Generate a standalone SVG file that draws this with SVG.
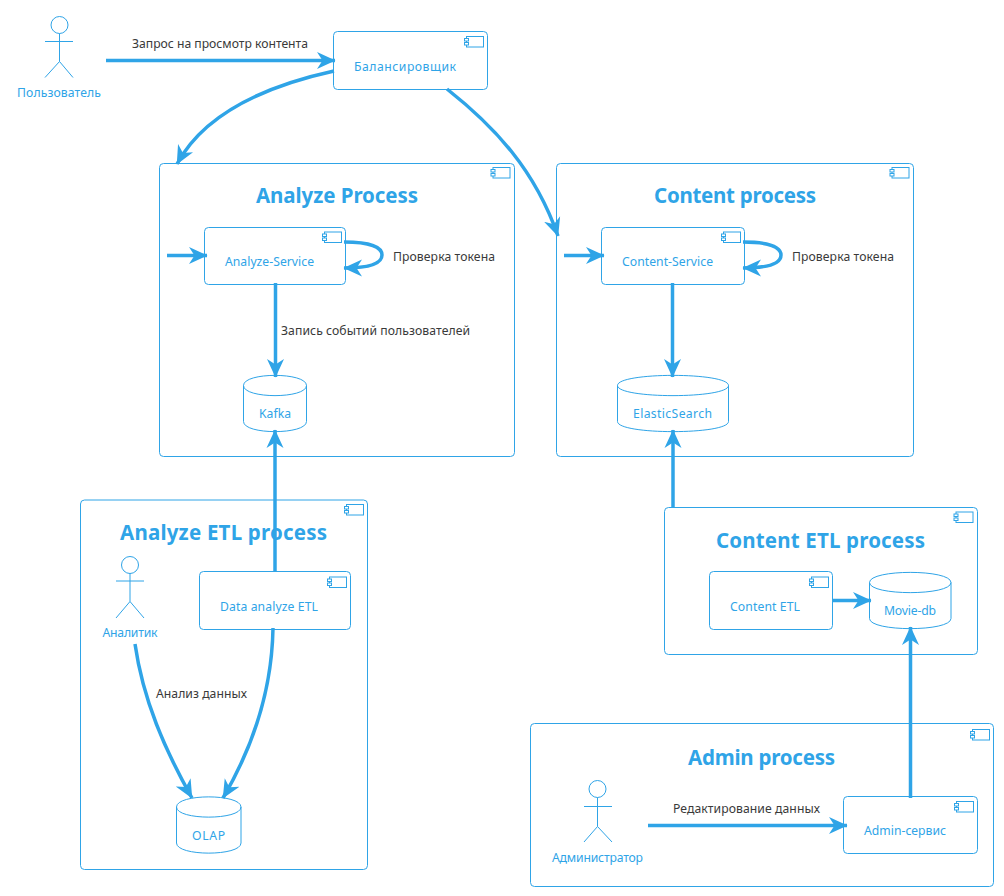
<svg xmlns="http://www.w3.org/2000/svg" width="1004" height="896" viewBox="0 0 1004 896">
<style>
text{font-family:"Noto Sans","Liberation Sans",Arial,sans-serif;font-size:12.2px;fill:#2fa4e7;text-anchor:middle}
.t{font-size:20.5px;font-weight:bold}
.l{fill:#3a3a3a}
.b{fill:none;stroke:#2fa4e7;stroke-width:1}
.c{fill:none;stroke:#2fa4e7;stroke-width:3.5}
.h{fill:#2fa4e7;stroke:none}
</style>
<defs>
<g id="icon" class="b">
<rect x="2" y="0" width="17" height="10.500" fill="#fff"/>
<rect x="0" y="2" width="4" height="2.500" fill="#fff"/>
<rect x="0" y="6" width="4" height="2.500" fill="#fff"/>
</g>
<marker id="a" markerUnits="userSpaceOnUse" markerWidth="20" markerHeight="20" viewBox="0 0 20 20" refX="18" refY="10" orient="auto">
<path class="h" d="M18.500 10L0 1.500L5.500 10L0 18.500Z"/>
</marker>
</defs>
<g id="analyze-process"><rect class="b" x="159.500" y="163.500" width="355" height="293" rx="4"/><use href="#icon" x="491" y="167.500"/><text class="t" x="337" y="203" textLength="162">Analyze Process</text></g>
<g id="content-process"><rect class="b" x="556.500" y="163.500" width="357" height="293" rx="4"/><use href="#icon" x="890" y="167.500"/><text class="t" x="735" y="203" textLength="162">Content process</text></g>
<g id="analyze-etl-process"><rect class="b" x="80.500" y="500" width="287" height="369.500" rx="4"/><use href="#icon" x="344.500" y="504.500"/><text class="t" x="223.500" y="540" textLength="207">Analyze ETL process</text></g>
<g id="content-etl-process"><rect class="b" x="664.500" y="507.500" width="313" height="147" rx="4"/><use href="#icon" x="954" y="512"/><text class="t" x="820.500" y="548" textLength="209">Content ETL process</text></g>
<g id="admin-process"><rect class="b" x="530.500" y="723.500" width="463" height="163" rx="4"/><use href="#icon" x="970.500" y="729.500"/><text class="t" x="761.500" y="765" textLength="147">Admin process</text></g>
<g id="user"><circle class="b" cx="59.500" cy="25" r="8.500"/><path class="b" d="M59.500 33.500V61.500M45 41.500H73M45 77.500L59.500 61.500L73 77.500"/><text x="59" y="97" textLength="84">Пользователь</text></g>
<g id="balancer"><rect class="b" x="333.500" y="31.500" width="154" height="58" rx="4"/><use href="#icon" x="464.500" y="36.500"/><text x="405" y="71" textLength="102">Балансировщик</text></g>
<g id="analyze-service"><rect class="b" x="204.500" y="227.500" width="141" height="57" rx="4"/><use href="#icon" x="322.500" y="232"/><text x="269.500" y="266" textLength="89">Analyze-Service</text></g>
<g id="content-service"><rect class="b" x="601.500" y="227.500" width="143" height="57" rx="4"/><use href="#icon" x="721.500" y="232"/><text x="667.500" y="266" textLength="91">Content-Service</text></g>
<g id="kafka"><path class="b" d="M243.500 385.500C243.500 372 306.500 372 306.500 385.500V421.500C306.500 435 243.500 435 243.500 421.500Z M243.500 385.500C243.500 399 306.500 399 306.500 385.500"/><text x="275" y="418" textLength="32">Kafka</text></g>
<g id="elasticsearch"><path class="b" d="M617.500 385.500C617.500 372 728.500 372 728.500 385.500V421.500C728.500 435 617.500 435 617.500 421.500Z M617.500 385.500C617.500 399 728.500 399 728.500 385.500"/><text x="672.500" y="418" textLength="79">ElasticSearch</text></g>
<g id="analyst"><circle class="b" cx="130" cy="565" r="8.500"/><path class="b" d="M130 573.500V601.500M116 581H144M116 618L130 601.500L144 618"/><text x="130" y="637" textLength="55">Аналитик</text></g>
<g id="data-analyze-etl"><rect class="b" x="199.500" y="571.500" width="151" height="58" rx="4"/><use href="#icon" x="327.500" y="577"/><text x="269" y="611" textLength="98">Data analyze ETL</text></g>
<g id="olap"><path class="b" d="M176.500 807C176.500 793.500 241 793.500 241 807V843C241 856.500 176.500 856.500 176.500 843Z M176.500 807C176.500 820.500 241 820.500 241 807"/><text x="208.500" y="840" textLength="33">OLAP</text></g>
<g id="content-etl"><rect class="b" x="709.500" y="571.500" width="123" height="58" rx="4"/><use href="#icon" x="809.500" y="577"/><text x="765" y="611" textLength="70">Content ETL</text></g>
<g id="movie-db"><path class="b" d="M869.500 582.500C869.500 569 951 569 951 582.500V618.500C951 632 869.500 632 869.500 618.500Z M869.500 582.500C869.500 596 951 596 951 582.500"/><text x="910" y="615" textLength="52">Movie-db</text></g>
<g id="admin"><circle class="b" cx="597.500" cy="789" r="8.500"/><path class="b" d="M597.500 797.500V826.500M584 806.500H612M584 842L597.500 826.500L612 842"/><text x="597.500" y="862" textLength="91">Администратор</text></g>
<g id="admin-service"><rect class="b" x="843.500" y="796.500" width="134" height="57" rx="4"/><use href="#icon" x="954.500" y="801.500"/><text x="905" y="835" textLength="82">Admin-сервис</text></g>
<g id="connectors">
<path class="c" marker-end="url(#a)" d="M106 60.500H335"/>
<path class="c" marker-end="url(#a)" d="M334 71C270 85 205 112 177 164"/>
<path class="c" marker-end="url(#a)" d="M447 89C495 127 535 170 558 236"/>
<path class="c" marker-end="url(#a)" d="M167 255.500H207"/>
<path class="c" marker-end="url(#a)" d="M564 255.500H604"/>
<path class="c" marker-end="url(#a)" d="M344 242C370 242 382 247 382 255C382 264 368 268 344 268"/>
<path class="c" marker-end="url(#a)" d="M743 242C769 242 781 247 781 255C781 264 767 268 743 268"/>
<path class="c" marker-end="url(#a)" d="M275.500 283V377"/>
<path class="c" marker-end="url(#a)" d="M672.500 283V377"/>
<path class="c" marker-end="url(#a)" d="M275 572V430"/>
<path class="c" marker-end="url(#a)" d="M673 508V430"/>
<path class="c" marker-end="url(#a)" d="M135 644C143 700 165 750 192 798"/>
<path class="c" marker-end="url(#a)" d="M273 628C272 690 254 745 223 798"/>
<path class="c" marker-end="url(#a)" d="M832 600.500H871"/>
<path class="c" marker-end="url(#a)" d="M910.500 798V627"/>
<path class="c" marker-end="url(#a)" d="M648 825.500H847"/>
</g>
<g id="labels">
<text class="l" x="220" y="48" textLength="176">Запрос на просмотр контента</text>
<text class="l" x="444" y="261" textLength="102">Проверка токена</text>
<text class="l" x="843" y="261" textLength="102">Проверка токена</text>
<text class="l" x="375.500" y="335" textLength="189">Запись событий пользователей</text>
<text class="l" x="201.500" y="698" textLength="91">Анализ данных</text>
<text class="l" x="746.500" y="813" textLength="147">Редактирование данных</text>
</g>
</svg>
